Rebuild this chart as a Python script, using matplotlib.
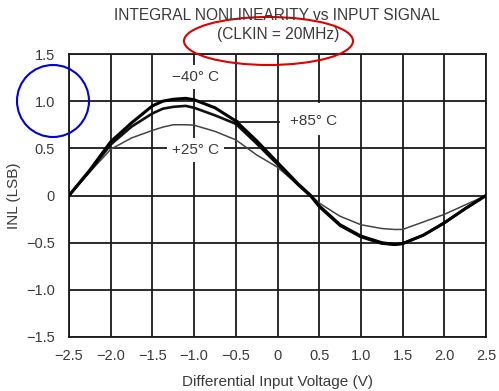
import matplotlib
matplotlib.use("Agg")
import matplotlib.pyplot as plt
from matplotlib.patches import Ellipse, Rectangle

plt.rcParams["font.family"] = ["Liberation Sans", "DejaVu Sans"]

# ── data ───────────────────────────────────────────────────────────────────────
volts = [-2.5, -2.25, -2.0, -1.75, -1.5, -1.375, -1.25, -1.1, -1.0, -0.75, -0.5, -0.25,
         0.0, 0.25, 0.4, 0.5, 0.75, 1.0, 1.25, 1.4, 1.5, 1.75, 2.0, 2.25, 2.5]
inl_m40 = [0.0, 0.27, 0.57, 0.77, 0.95, 1.00, 1.02, 1.03, 1.015, 0.93, 0.79, 0.58,
           0.35, 0.12, 0.0, -0.11, -0.31, -0.43, -0.50, -0.52, -0.51, -0.42, -0.29, -0.14, 0.0]
inl_p85 = [0.0, 0.26, 0.54, 0.73, 0.87, 0.92, 0.94, 0.95, 0.93, 0.85, 0.76, 0.55,
           0.33, 0.11, -0.01, -0.12, -0.32, -0.44, -0.51, -0.52, -0.51, -0.42, -0.29, -0.14, 0.0]
inl_p25 = [0.0, 0.25, 0.49, 0.61, 0.69, 0.725, 0.75, 0.75, 0.745, 0.68, 0.59, 0.43,
           0.30, 0.11, 0.0, -0.08, -0.22, -0.31, -0.35, -0.36, -0.36, -0.28, -0.20, -0.10, 0.0]

x_ticks = [-2.5, -2.0, -1.5, -1.0, -0.5, 0, 0.5, 1.0, 1.5, 2.0, 2.5]
x_labels = ["\u22122.5", "\u22122.0", "\u22121.5", "\u22121.0", "\u22120.5", "0",
            "0.5", "1.0", "1.5", "2.0", "2.5"]
y_ticks = [-1.5, -1.0, -0.5, 0, 0.5, 1.0, 1.5]
y_labels = ["\u22121.5", "\u22121.0", "\u22120.5", "0", "0.5", "1.0", "1.5"]

TXT = "#3a3a3a"
GRID = "#1a1a1a"

fig = plt.figure(figsize=(4.99, 3.91), dpi=100)
ax = fig.add_axes([69/499, 1 - 337/391, (486-69)/499, (337-54)/391])

ax.set_xlim(-2.5, 2.5)
ax.set_ylim(-1.5, 1.5)
ax.set_xticks(x_ticks)
ax.set_xticklabels(x_labels)
ax.set_yticks(y_ticks)
ax.set_yticklabels(y_labels)
ax.tick_params(axis="x", length=0, pad=9, labelsize=10.5, labelcolor=TXT)
ax.tick_params(axis="y", length=0, pad=10, labelsize=10.5, labelcolor=TXT)
ax.grid(True, color=GRID, linewidth=1.3)
ax.set_axisbelow(True)
for s in ax.spines.values():
    s.set_color(GRID)
    s.set_linewidth(1.3)

ax.plot(volts, inl_p25, color="#444444", linewidth=1.1, zorder=3)
ax.plot(volts, inl_p85, color="#111111", linewidth=1.9, zorder=3)
ax.plot(volts, inl_m40, color="#000000", linewidth=2.2, zorder=3)

# curve labels (white boxes hide the grid behind them)
box = dict(facecolor="white", edgecolor="none", pad=3.5)
ax.text(-0.98, 1.255, "\u221240\u00b0 C", ha="center", va="center", fontsize=11,
        color=TXT, bbox=box, zorder=4)
ax.text(-0.98, 0.48, "+25\u00b0 C", ha="center", va="center", fontsize=11,
        color=TXT, bbox=box, zorder=4)
ax.add_patch(Rectangle((0.12, 0.64), 0.63, 0.34, facecolor="white", edgecolor="none",
                       zorder=2.5))
ax.plot([-0.5, 0.02], [0.775, 0.775], color=GRID, linewidth=1.3, zorder=4)
ax.plot([-0.5], [0.775], "o", color="#000000", markersize=3, zorder=5)
ax.text(0.43, 0.79, "+85\u00b0 C", ha="center", va="center", fontsize=11,
        color=TXT, zorder=4)

ax.set_xlabel("Differential Input Voltage (V)", fontsize=11, color=TXT, labelpad=8)
ax.set_ylabel("INL (LSB)", fontsize=11, color=TXT, labelpad=4)

fig.text(277.5/499, 1 - 15/391, "INTEGRAL NONLINEARITY vs INPUT SIGNAL", ha="center",
         va="center", fontsize=11.2, color=TXT)
fig.text(278.5/499, 1 - 35/391, "(CLKIN = 20MHz)", ha="center", va="center",
         fontsize=11.2, color=TXT)

# hand-drawn highlight marks, in pixel coordinates
over = fig.add_axes([0, 0, 1, 1])
over.set_xlim(0, 499)
over.set_ylim(391, 0)
over.axis("off")
over.patch.set_alpha(0)
over.add_patch(Ellipse((268.5, 41), 169, 48, fill=False, edgecolor="#e00000", linewidth=1.5))
over.add_patch(Ellipse((53, 101), 72, 72, fill=False, edgecolor="#0000e0", linewidth=1.5))

fig.savefig("out.png", dpi=100, facecolor="white")
